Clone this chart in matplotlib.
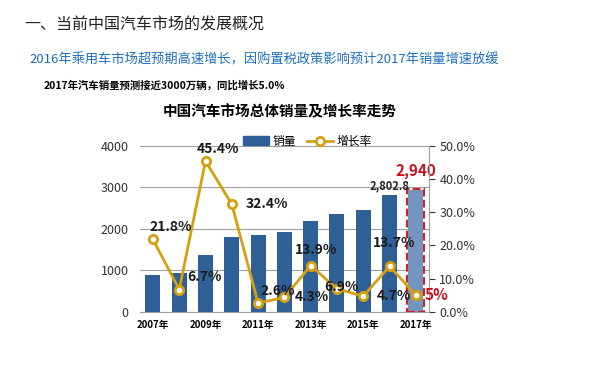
import matplotlib.pyplot as plt
import matplotlib.patches as mpatches
from matplotlib.lines import Line2D

plt.rcParams['font.family'] = ['Noto Sans CJK SC', 'DejaVu Sans']

# Data
years = ['2007年', '2008年', '2009年', '2010年', '2011年', '2012年',
         '2013年', '2014年', '2015年', '2016年', '2017年']
sales = [879, 938, 1364, 1806, 1851, 1931, 2198, 2349, 2460, 2802.8, 2940]
growth = [21.8, 6.7, 45.4, 32.4, 2.6, 4.3, 13.9, 6.9, 4.7, 13.7, 5.0]
growth_labels = ['21.8%', '6.7%', '45.4%', '32.4%', '2.6%', '4.3%',
                 '13.9%', '6.9%', '4.7%', '13.7%', '5%']
# label offsets in points (dx, dy) for the growth labels
label_offsets = [(13, 9), (18, 9), (9, 9), (25, 0), (14, 9), (20, 0),
                 (4, 11), (3, 1), (22, 0), (3, 17), (15, 0)]

BAR = '#2e5f96'
BAR_LAST = '#7396c0'
LINE = '#d4a010'

fig = plt.figure(figsize=(6, 3.72), dpi=100)

# headings
fig.text(0.04, 0.935, '一、当前中国汽车市场的发展概况', fontsize=11.5,
         color='#222222', va='center', ha='left')
fig.text(0.44, 0.84, '2016年乘用车市场超预期高速增长，因购置税政策影响预计2017年销量增速放缓',
         fontsize=9.5, color='#1f6fc0', va='center', ha='center')
fig.text(0.072, 0.771, '2017年汽车销量预测接近3000万辆，同比增长5.0%', fontsize=7.5,
         color='black', fontweight='bold', va='center', ha='left')
fig.text(0.467, 0.70, '中国汽车市场总体销量及增长率走势', fontsize=10.5,
         color='black', fontweight='bold', va='center', ha='center')

ax = fig.add_axes([0.233, 0.162, 0.482, 0.446])
x = list(range(len(years)))
colors = [BAR] * (len(years) - 1) + [BAR_LAST]
bars = ax.bar(x, sales, width=0.57, color=colors, zorder=2)
ax.set_xlim(-0.5, len(years) - 0.5)
ax.set_ylim(0, 4000)
ax.set_yticks([0, 1000, 2000, 3000, 4000])
ax.tick_params(axis='y', labelsize=9, length=0, colors='#333333', pad=8)
ax.grid(axis='y', color='#a0a0a0', linewidth=0.8, zorder=0)
ax.set_xticks(x[::2])
ax.set_xticklabels(years[::2], fontsize=7, fontweight='bold')
ax.tick_params(axis='x', length=0, pad=6)
for s in ['top', 'left', 'right']:
    ax.spines[s].set_visible(False)
ax.spines['bottom'].set_color('#a0a0a0')

# dashed highlight around the forecast bar
last = bars[-1]
ax.add_patch(mpatches.Rectangle((last.get_x() - 0.04, 0), last.get_width() + 0.08,
                                sales[-1] + 30, fill=False, edgecolor='#d0202a',
                                linestyle='--', linewidth=1.5, zorder=3))
ax.annotate('2,940', (x[-1], sales[-1]), xytext=(0, 8), textcoords='offset points',
            ha='center', va='bottom', fontsize=11, fontweight='bold', color='#c8101e')
ax.annotate('2,802.8', (x[-2], sales[-2]), xytext=(0, 2), textcoords='offset points',
            ha='center', va='bottom', fontsize=8, fontweight='bold', color='#222222')

ax2 = ax.twinx()
ax2.plot(x, growth, color=LINE, linewidth=2, marker='o', markersize=6,
         markerfacecolor='white', markeredgecolor=LINE, markeredgewidth=2, zorder=4)
ax2.set_ylim(0, 50)
ax2.set_yticks([0, 10, 20, 30, 40, 50])
ax2.set_yticklabels(['0.0%', '10.0%', '20.0%', '30.0%', '40.0%', '50.0%'])
ax2.tick_params(axis='y', labelsize=9, length=4, colors='#333333', direction='out')
for s in ['top', 'left', 'bottom']:
    ax2.spines[s].set_visible(False)
ax2.spines['right'].set_color('#a0a0a0')

for i, (g, lab) in enumerate(zip(growth, growth_labels)):
    dx, dy = label_offsets[i]
    red = i == len(growth) - 1
    ax2.annotate(lab, (i, g), xytext=(dx, dy), textcoords='offset points',
                 ha='center', va='center', fontsize=11 if red else 10,
                 fontweight='bold', color='#c8101e' if red else '#1a1a1a', zorder=5)
# leader line for 13.7%
ax2.annotate('', (x[-2], growth[-2]), xytext=(x[-2], growth[-2] + 4.5),
             arrowprops=dict(arrowstyle='-', color='#555555', lw=0.6))

handles = [mpatches.Patch(color=BAR, label='销量'),
           Line2D([0], [0], color=LINE, lw=2, marker='o', markersize=6,
                  markerfacecolor='white', markeredgecolor=LINE, markeredgewidth=2,
                  label='增长率')]
ax2.legend(handles=handles, loc='lower right', bbox_to_anchor=(0.82, 0.96), ncol=2,
           frameon=False, fontsize=8.5, handlelength=2.2, columnspacing=1.0,
           handletextpad=0.3, borderaxespad=0)

fig.savefig('out.png', dpi=100)
